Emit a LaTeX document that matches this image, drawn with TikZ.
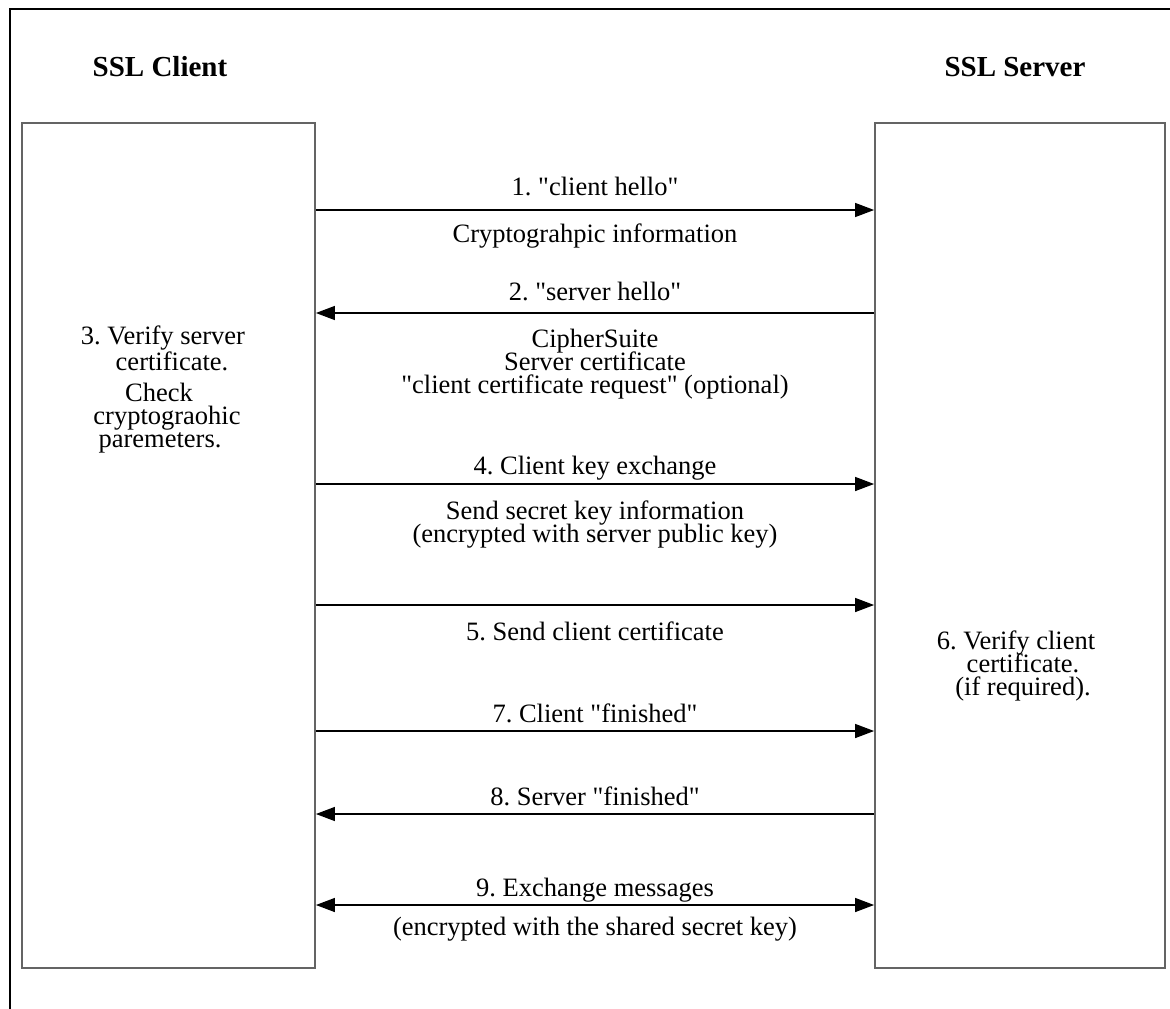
\documentclass[tikz,border=0pt]{standalone}
\usepackage{fontspec}
\setmainfont{Liberation Serif}
\usetikzlibrary{arrows.meta}
\definecolor{boxgray}{RGB}{100,100,100}
\newcommand{\qq}{\textquotedbl}
\newcommand{\lblfont}{\fontsize{26.5}{23}\selectfont\frenchspacing\setlength{\lineskiplimit}{-100pt}}
\tikzset{
  party/.style={draw=boxgray, line width=1.8pt, minimum width=#1, minimum height=845pt, inner sep=0pt},
  msg/.style={line width=1.3pt, -{Triangle[length=19pt,width=14pt]}},
  msgboth/.style={line width=1.3pt, {Triangle[length=19pt,width=14pt]}-{Triangle[length=19pt,width=14pt]}},
  lbl/.style={anchor=base, inner sep=0pt, align=center, font=\lblfont},
  ttl/.style={anchor=base, inner sep=0pt, font=\fontsize{29}{30}\selectfont\bfseries},
}
\begin{document}
\begin{tikzpicture}[x=1pt,y=-1pt]
\useasboundingbox (0,0) rectangle (1170,1009);
% outer frame (partly visible)
\draw[line width=2.8pt] (10,1009) -- (10,9) -- (1170,9);
% titles
\node[ttl] (tc) at (160,76) {SSL Client};
\node[ttl] (ts) at (1015,76) {SSL Server};
% party boxes
\node[party=293pt] (client) at (168.5,545.5) {};
\node[party=290pt] (server) at (1020,545.5) {};
% arrow levels
\coordinate (y1) at (0,210);
\coordinate (y2) at (0,313);
\coordinate (y4) at (0,484);
\coordinate (y5) at (0,605);
\coordinate (y7) at (0,731);
\coordinate (y8) at (0,814);
\coordinate (y9) at (0,905);
% messages
\draw[msg] (client.east |- y1) -- (server.west |- y1);
\draw[msg] (server.west |- y2) -- (client.east |- y2);
\draw[msg] (client.east |- y4) -- (server.west |- y4);
\draw[msg] (client.east |- y5) -- (server.west |- y5);
\draw[msg] (client.east |- y7) -- (server.west |- y7);
\draw[msg] (server.west |- y8) -- (client.east |- y8);
\draw[msgboth] (client.east |- y9) -- (server.west |- y9);
% message labels (base anchor = baseline of last line)
\node[lbl] (l1) at (595,195) {1. \qq client hello\qq};
\node[lbl] (l1b) at (595,242) {Cryptograhpic information};
\node[lbl] (l2) at (595,300) {2. \qq server hello\qq};
\node[lbl] (l2b) at (595,393) {CipherSuite\\Server certificate\\\qq client certificate request\qq{} (optional)};
\node[lbl] (l4) at (595,474) {4. Client key exchange};
\node[lbl] (l4b) at (595,542) {Send secret key information\\(encrypted with server public key)};
\node[lbl] (l5) at (595,640) {5. Send client certificate};
\node[lbl] (l7) at (595,722) {7. Client \qq finished\qq};
\node[lbl] (l8) at (595,805) {8. Server \qq finished\qq};
\node[lbl] (l9) at (595,896) {9. Exchange messages};
\node[lbl] (l9b) at (595,935) {(encrypted with the shared secret key)};
% client side notes
\node[lbl] (c1) at (163,370) {3. Verify server\\[3pt]\hspace*{18pt}certificate.};
\node[lbl] (c3) at (163,447) {\hspace*{-8pt}Check\\\hspace*{8pt}cryptograohic\\\hspace*{-6pt}paremeters.};
% server side notes
\node[lbl] (s1) at (1016,695) {6. Verify client\\\hspace*{14pt}certificate.\\\hspace*{14pt}(if required).};
\end{tikzpicture}
\end{document}
